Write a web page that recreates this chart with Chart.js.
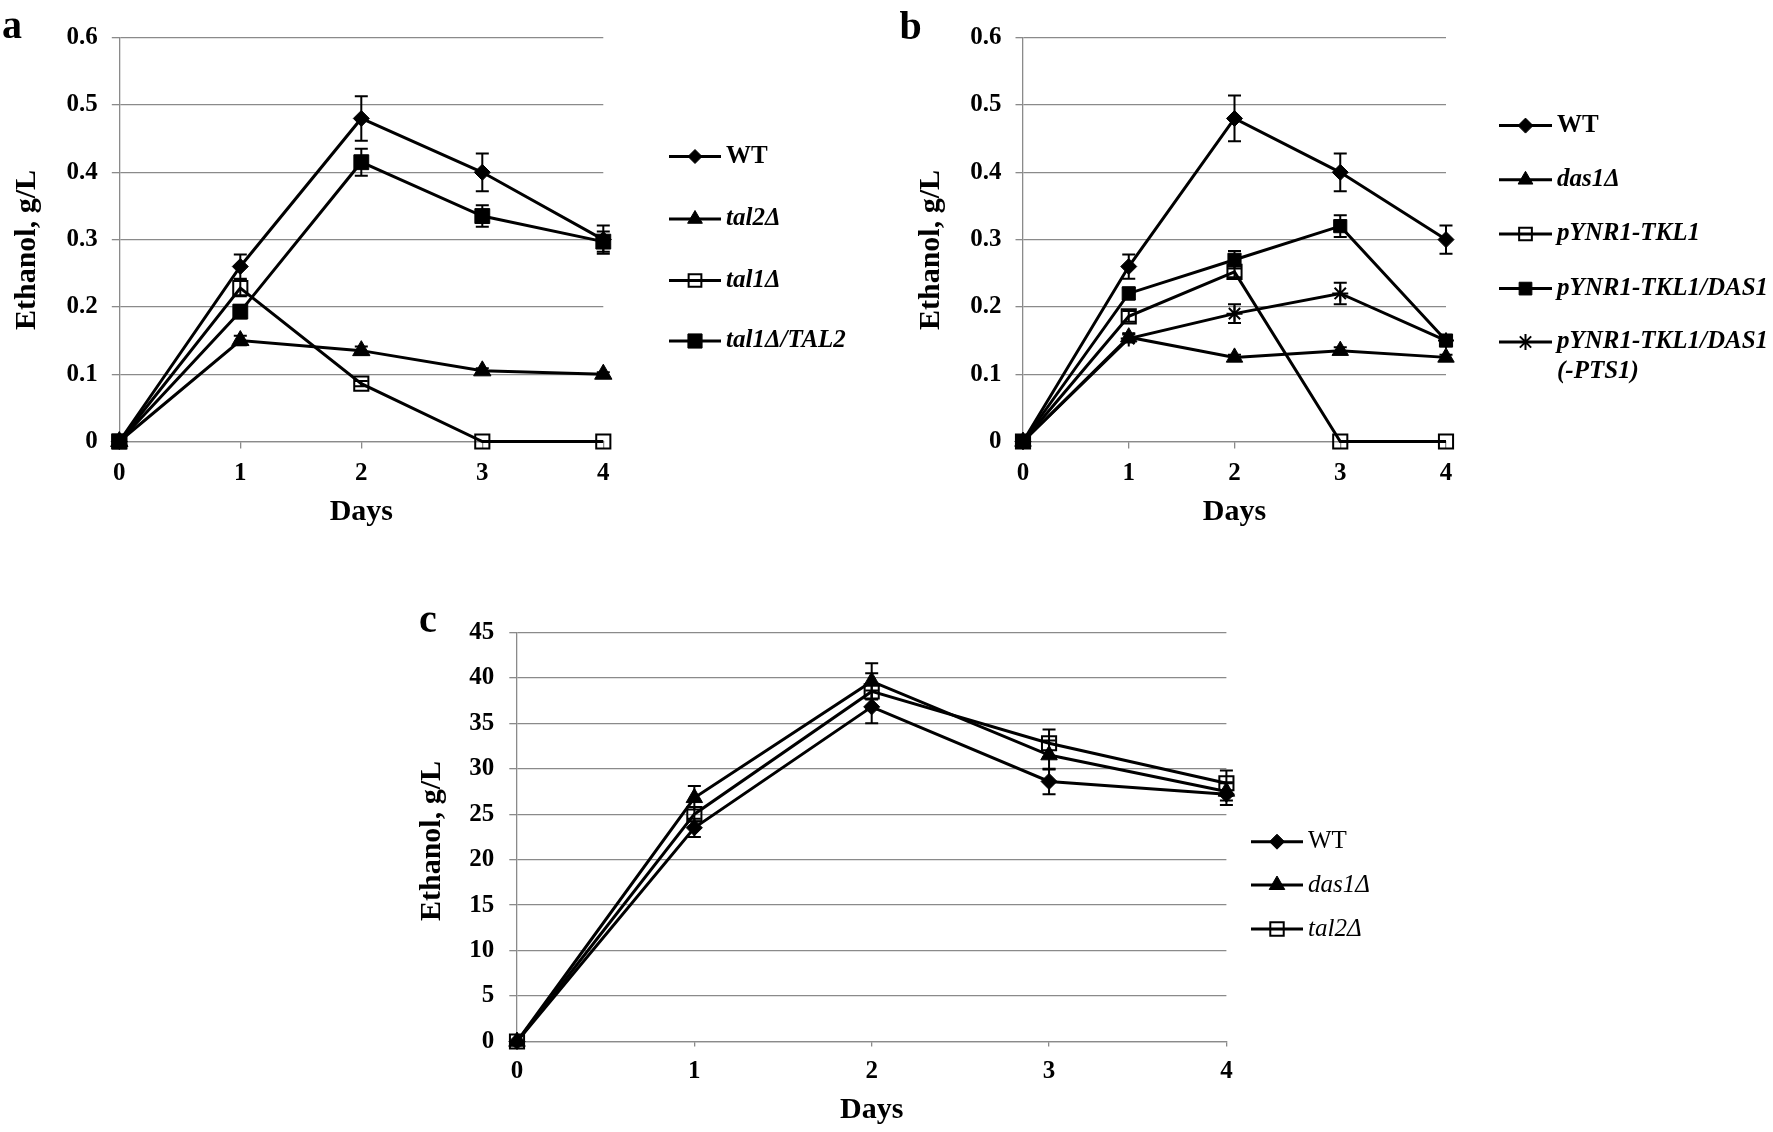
<!DOCTYPE html>
<html><head><meta charset="utf-8">
<script src="https://cdn.jsdelivr.net/npm/chart.js@4.4.1/dist/chart.umd.min.js"></script>
<style>
html,body{margin:0;padding:0;background:#fff;}
body{width:1773px;height:1132px;position:relative;overflow:hidden;}
.box{position:absolute;}
</style></head><body>
<div class="box" style="left:0;top:0;width:890px;height:560px"><canvas id="cA"></canvas></div>
<div class="box" style="left:890px;top:0;width:883px;height:560px"><canvas id="cB"></canvas></div>
<div class="box" style="left:380px;top:590px;width:1020px;height:542px"><canvas id="cC"></canvas></div>
<script>
// ---------- data ----------
const days = ['0', '1', '2', '3', '4'];
const yTicksAB = ['0', '0.1', '0.2', '0.3', '0.4', '0.5', '0.6'];
const yTicksC = ['0', '5', '10', '15', '20', '25', '30', '35', '40', '45'];

// panel a
const labelsA = ['WT', 'tal2Δ', 'tal1Δ', 'tal1Δ/TAL2'];
const aWT = [0, 0.26, 0.48, 0.40, 0.30];
const aWTErr = [0, 0.018, 0.033, 0.028, 0.021];
const aTal2 = [0, 0.15, 0.135, 0.105, 0.10];
const aTal2Err = [0, 0.007, 0.006, 0.004, 0.003];
const aTal1 = [0, 0.228, 0.086, 0, 0];
const aTal1Err = [0, 0.012, 0.004, 0, 0];
const aTal1TAL2 = [0, 0.193, 0.415, 0.335, 0.297];
const aTal1TAL2Err = [0, 0.01, 0.02, 0.016, 0.015];

// panel b
const labelsB = ['WT', 'das1Δ', 'pYNR1-TKL1', 'pYNR1-TKL1/DAS1', 'pYNR1-TKL1/DAS1\n(-PTS1)'];
const bWT = [0, 0.26, 0.48, 0.40, 0.30];
const bWTErr = [0, 0.018, 0.034, 0.028, 0.021];
const bDas1 = [0, 0.155, 0.125, 0.135, 0.125];
const bDas1Err = [0, 0.006, 0.004, 0.005, 0.004];
const bTkl1 = [0, 0.186, 0.252, 0, 0];
const bTkl1Err = [0, 0.008, 0.008, 0, 0];
const bTkl1Das1 = [0, 0.22, 0.27, 0.32, 0.15];
const bTkl1Das1Err = [0, 0.009, 0.013, 0.016, 0.008];
const bPts1 = [0, 0.153, 0.19, 0.22, 0.15];
const bPts1Err = [0, 0.006, 0.014, 0.016, 0.006];

// panel c
const labelsC = ['WT', 'das1Δ', 'tal2Δ'];
const cWT = [0, 23.5, 36.8, 28.6, 27.2];
const cWTErr = [0, 1.0, 1.8, 1.4, 1.2];
const cDas1 = [0, 26.8, 39.6, 31.5, 27.5];
const cDas1Err = [0, 1.3, 2.0, 1.6, 1.0];
const cTal2 = [0, 25.0, 38.5, 32.8, 28.4];
const cTal2Err = [0, 0.8, 2.0, 1.5, 1.4];

// ---------- helpers ----------
const FONT = 'Liberation Serif';
const GRID = '#8a8a8a';
Chart.defaults.font.family = FONT;
Chart.defaults.color = '#000';

function ds(label, data, errors, style, radius, filled, bw) {
  return {
    label, data, errors,
    borderColor: '#000', borderWidth: 3, tension: 0, fill: false,
    pointStyle: style, pointRadius: radius, pointHoverRadius: radius,
    pointBackgroundColor: filled ? '#000' : 'rgba(0,0,0,0)',
    pointBorderColor: '#000', pointBorderWidth: bw,
    clip: false
  };
}

const errorBarPlugin = {
  id: 'errbars',
  afterDatasetsDraw(chart, args, o) {
    const {ctx} = chart; const x = chart.scales.x, y = chart.scales.y;
    ctx.save(); ctx.strokeStyle = '#000'; ctx.lineWidth = o.width || 2;
    const cap = o.cap || 6;
    chart.data.datasets.forEach(d => {
      if (!d.errors) return;
      d.data.forEach((v, i) => {
        const e = d.errors[i]; if (!e) return;
        const px = x.getPixelForValue(i);
        const t = y.getPixelForValue(v + e), b = y.getPixelForValue(v - e);
        ctx.beginPath();
        ctx.moveTo(px, t); ctx.lineTo(px, b);
        ctx.moveTo(px - cap, t); ctx.lineTo(px + cap, t);
        ctx.moveTo(px - cap, b); ctx.lineTo(px + cap, b);
        ctx.stroke();
      });
    });
    ctx.restore();
  }
};

const annotPlugin = {
  id: 'annot',
  afterDraw(chart, args, o) {
    const ctx = chart.ctx;
    ctx.save();
    ctx.fillStyle = '#000';
    ctx.font = 'bold 40px "' + FONT + '"';
    ctx.textAlign = 'left'; ctx.textBaseline = 'alphabetic';
    ctx.fillText(o.letter.text, o.letter.x, o.letter.y);
    ctx.save();
    ctx.translate(o.yTitle.x, o.yTitle.y); ctx.rotate(-Math.PI / 2);
    ctx.font = 'bold 30px "' + FONT + '"';
    ctx.textAlign = 'center'; ctx.textBaseline = 'middle';
    ctx.fillText(o.yTitle.text, 0, 0);
    ctx.restore();
    const L = o.legend;
    chart.data.datasets.forEach((d, i) => {
      const yy = L.rows[i];
      ctx.strokeStyle = '#000'; ctx.lineWidth = 3;
      ctx.beginPath(); ctx.moveTo(L.x1, yy); ctx.lineTo(L.x2, yy); ctx.stroke();
      ctx.fillStyle = d.pointBackgroundColor; ctx.strokeStyle = '#000';
      ctx.lineWidth = d.pointBorderWidth;
      Chart.helpers.drawPoint(ctx, {pointStyle: d.pointStyle, radius: L.radius[i], rotation: 0, borderWidth: d.pointBorderWidth}, (L.x1 + L.x2) / 2, yy);
      ctx.fillStyle = '#000';
      const italic = d.label !== 'WT';
      ctx.font = (italic ? 'italic ' : '') + (L.bold ? 'bold ' : '') + L.size + 'px "' + FONT + '"';
      ctx.textAlign = 'left'; ctx.textBaseline = 'middle';
      d.label.split('\n').forEach((t, k) => ctx.fillText(t, L.tx, yy + k * L.lineGap));
    });
    ctx.restore();
  }
};

function makeChart(id, g) {
  return new Chart(document.getElementById(id), {
    type: 'line',
    data: {labels: days, datasets: g.datasets},
    plugins: [errorBarPlugin, annotPlugin],
    options: {
      responsive: true, maintainAspectRatio: false, animation: false,
      devicePixelRatio: 1,
      layout: {padding: {left: 0, top: g.pt, right: g.pr, bottom: 0}},
      plugins: {
        legend: {display: false}, tooltip: {enabled: false},
        errbars: {width: 2, cap: 6.5},
        annot: {letter: g.letter, yTitle: g.yTitle, legend: g.legend}
      },
      scales: {
        x: {
          type: 'category', offset: false,
          afterFit: s => { s.height = g.xh; },
          grid: {display: true, drawOnChartArea: false, drawTicks: true, tickLength: g.xTickLen, color: GRID, lineWidth: 1.3},
          border: {display: true, color: GRID, width: 1.3},
          ticks: {font: {size: 25, weight: 'bold'}, color: '#000', padding: g.xTickPad, maxRotation: 0},
          title: {display: true, text: 'Days', font: {size: 30, weight: 'bold'}, color: '#000', padding: {top: 0, bottom: g.xTitlePad}}
        },
        y: {
          min: 0, max: g.yMax,
          afterFit: s => { s.width = g.yw; },
          grid: {color: GRID, lineWidth: 1.3, tickLength: g.yTickLen, drawTicks: true},
          border: {display: true, color: GRID, width: 1.3},
          ticks: {stepSize: g.yStep, font: {size: 25, weight: 'bold'}, color: '#000', padding: g.yTickPad,
                  callback: (v, i) => g.yTicks[i]}
        }
      }
    }
  });
}

makeChart('cA', {
  datasets: [
    ds(labelsA[0], aWT, aWTErr, 'rectRot', 8, true, 1),
    ds(labelsA[1], aTal2, aTal2Err, 'triangle', 10, true, 1),
    ds(labelsA[2], aTal1, aTal1Err, 'rect', 10, false, 2),
    ds(labelsA[3], aTal1TAL2, aTal1TAL2Err, 'rect', 10.5, true, 1)
  ],
  yMax: 0.6, yStep: 0.1, yTicks: yTicksAB,
  pt: 37.7, pr: 286.7, yw: 119.3, xh: 118.5,
  xTickLen: 7, xTickPad: 10.5, yTickLen: 7.5, yTickPad: 14, xTitlePad: 30,
  letter: {text: 'a', x: 2, y: 38},
  yTitle: {text: 'Ethanol, g/L', x: 27, y: 250},
  legend: {x1: 669, x2: 721, tx: 726, rows: [156.5, 219, 280.5, 341], radius: [7, 8.5, 9, 10], size: 25, bold: true, lineGap: 30}
});

makeChart('cB', {
  datasets: [
    ds(labelsB[0], bWT, bWTErr, 'rectRot', 8, true, 1),
    ds(labelsB[1], bDas1, bDas1Err, 'triangle', 9.5, true, 1),
    ds(labelsB[2], bTkl1, bTkl1Err, 'rect', 10, false, 2),
    ds(labelsB[3], bTkl1Das1, bTkl1Das1Err, 'rect', 9.3, true, 1),
    ds(labelsB[4], bPts1, bPts1Err, 'star', 8, false, 2)
  ],
  yMax: 0.6, yStep: 0.1, yTicks: yTicksAB,
  pt: 37.7, pr: 327, yw: 133, xh: 118.5,
  xTickLen: 7, xTickPad: 10.5, yTickLen: 7.5, yTickPad: 14, xTitlePad: 30,
  letter: {text: 'b', x: 9.6, y: 39},
  yTitle: {text: 'Ethanol, g/L', x: 41, y: 250},
  legend: {x1: 609, x2: 662, tx: 667, rows: [125.6, 179.8, 234, 288.6, 342], radius: [7.5, 8.5, 9, 9, 8], size: 25, bold: true, lineGap: 30}
});

makeChart('cC', {
  datasets: [
    ds(labelsC[0], cWT, cWTErr, 'rectRot', 8, true, 1),
    ds(labelsC[1], cDas1, cDas1Err, 'triangle', 9.5, true, 1),
    ds(labelsC[2], cTal2, cTal2Err, 'rect', 10, false, 2)
  ],
  yMax: 45, yStep: 5, yTicks: yTicksC,
  pt: 42.3, pr: 173.6, yw: 137, xh: 90.5,
  xTickLen: 5, xTickPad: 10.5, yTickLen: 7.7, yTickPad: 15, xTitlePad: 4,
  letter: {text: 'c', x: 39, y: 41.7},
  yTitle: {text: 'Ethanol, g/L', x: 52, y: 251},
  legend: {x1: 871, x2: 923, tx: 928, rows: [251.7, 295, 339], radius: [7.5, 9, 9.5], size: 25, bold: false, lineGap: 30}
});
</script>
</body></html>
